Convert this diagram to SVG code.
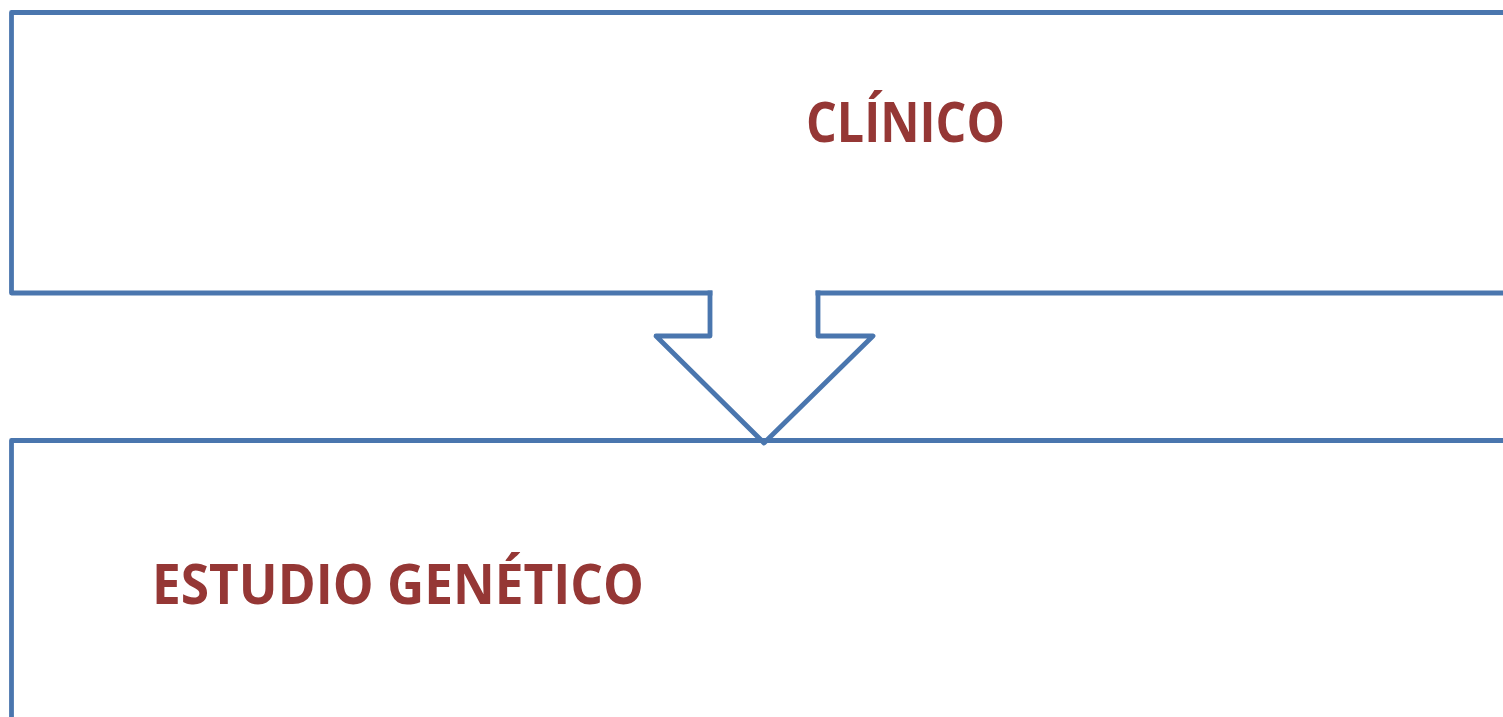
<svg xmlns="http://www.w3.org/2000/svg" width="1503" height="717" viewBox="0 0 1503 717">
  <style>
    .frame { fill: none; stroke: #4A76AE; stroke-width: 4.8; stroke-linejoin: round; stroke-linecap: square; }
    .label { font-family: "Open Sans", "Lato", "Liberation Sans", sans-serif; font-weight: bold; font-size: 55px; fill: #953735; }
  </style>
  <rect width="1503" height="717" fill="#ffffff"/>
  <g id="connectors">
    <path class="frame" d="M710,293 V336 H656 L764,443 L873,336 H818 V293"/>
  </g>
  <g id="node-clinico">
    <path class="frame" d="M1510,12.5 H11.5 V293 H710 M818,293 H1510"/>
    <text class="label" x="806" y="142" textLength="199" lengthAdjust="spacingAndGlyphs">CLÍNICO</text>
  </g>
  <g id="node-estudio">
    <path class="frame" d="M1510,440.5 H11.5 V720"/>
    <text class="label" x="152" y="604" textLength="492" lengthAdjust="spacingAndGlyphs">ESTUDIO GENÉTICO</text>
  </g>
</svg>
